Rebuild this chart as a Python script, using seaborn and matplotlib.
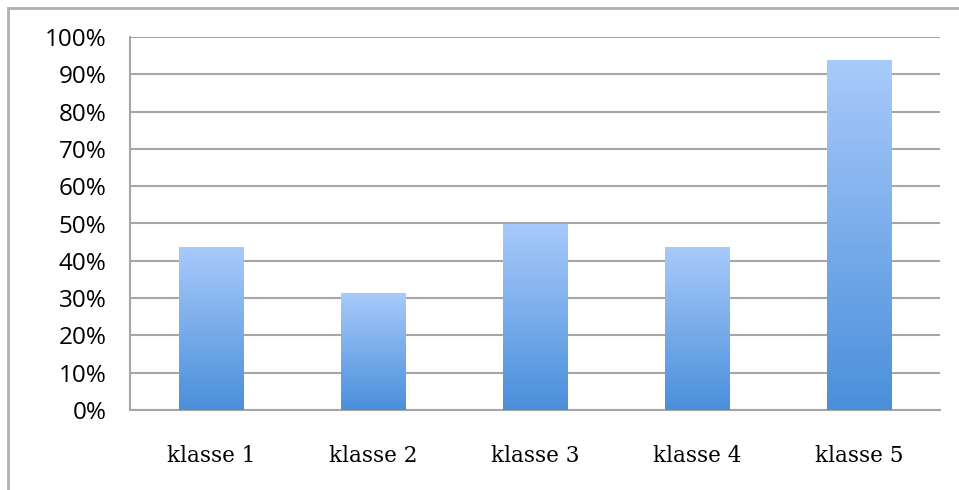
import matplotlib
matplotlib.use("Agg")
import matplotlib.pyplot as plt
import matplotlib.patches as mpatches
from matplotlib.colors import LinearSegmentedColormap
from matplotlib.ticker import PercentFormatter, FixedLocator
import numpy as np
import pandas as pd
import seaborn as sns

categories = ["klasse 1", "klasse 2", "klasse 3", "klasse 4", "klasse 5"]
shares = [43.75, 31.25, 50.0, 43.75, 93.75]
y_ticks = list(range(0, 101, 10))

df = pd.DataFrame({"klasse": categories, "share": shares})

sns.set_theme(style="white")
grid_col = "#a6a6a6"

fig = plt.figure(figsize=(9.59, 4.90), dpi=100)
ax = fig.add_axes([130 / 959, 80 / 490, 810 / 959, 373 / 490])

sns.barplot(data=df, x="klasse", y="share", ax=ax, width=0.4,
            color="#6fa4e6", edgecolor="none", zorder=3)

# vertical gradient fill per bar
grad = LinearSegmentedColormap.from_list("g", ["#4a8fdb", "#a8cafb"])
ramp = np.linspace(0, 1, 256).reshape(-1, 1)
for p in ax.patches:
    x0, y0 = p.get_x(), p.get_y()
    w, h = p.get_width(), p.get_height()
    im = ax.imshow(ramp, cmap=grad, origin="lower", aspect="auto",
                   extent=[x0, x0 + w, y0, y0 + h], zorder=4, interpolation="bicubic")
    im.set_clip_path(p)
    p.set_facecolor("none")

ax.set_xlim(-0.5, 4.5)
ax.set_ylim(0, 100)
ax.yaxis.set_major_locator(FixedLocator(y_ticks))
ax.yaxis.set_major_formatter(PercentFormatter(decimals=0))
ax.set_xlabel("")
ax.set_ylabel("")

ax.grid(axis="y", color=grid_col, linewidth=1.5, zorder=1)
ax.set_axisbelow(True)
for side in ["top", "right"]:
    ax.spines[side].set_visible(False)
for side in ["left", "bottom"]:
    ax.spines[side].set_color(grid_col)
    ax.spines[side].set_linewidth(1.5)

# category boundary ticks on x axis, labels centered
ax.set_xticks(np.arange(len(categories)))
ax.set_xticklabels(categories, family="DejaVu Serif", fontsize=15.5, color="black")
ax.set_xticks(np.arange(-0.5, len(categories)), minor=True)
ax.tick_params(axis="x", which="major", length=0, pad=25)
ax.tick_params(axis="x", which="minor", length=6, width=1.5, color=grid_col, direction="out")
ax.tick_params(axis="y", length=7, width=1.5, color=grid_col, direction="out", pad=10,
               labelsize=17.5, labelcolor="black")
for lab in ax.get_yticklabels():
    lab.set_family("Open Sans")

# outer frame (top and left edges visible)
fig.patches.append(mpatches.Rectangle((8 / 959, -0.1), 1.2, (482 / 490) + 0.1,
                                      transform=fig.transFigure, fill=False,
                                      edgecolor="#b0b0b0", linewidth=2))

fig.savefig("out.png", dpi=100)
